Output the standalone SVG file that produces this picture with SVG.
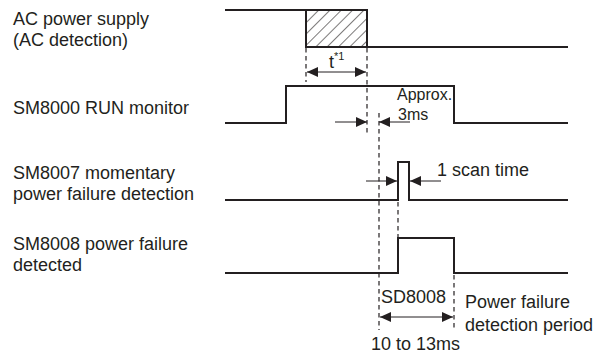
<svg xmlns="http://www.w3.org/2000/svg" width="597" height="356" viewBox="0 0 597 356">
<style>
text{font-family:"Liberation Sans",Arial,sans-serif;font-size:18px;fill:#231f20}
.sig{fill:none;stroke:#231f20;stroke-width:2}
.dash{fill:none;stroke:#231f20;stroke-width:1.2;stroke-dasharray:4.5,3.5}
.dim{fill:none;stroke:#231f20;stroke-width:1}
.sm{font-size:16px}
.sup{font-size:11px}
</style>
<defs>
<pattern id="hatch" patternUnits="userSpaceOnUse" width="8" height="8" patternTransform="rotate(45)">
<line x1="0" y1="0" x2="0" y2="8" stroke="#231f20" stroke-width="1.2"/>
</pattern>
<marker id="ah" viewBox="0 0 11 10" refX="11" refY="5" markerWidth="11" markerHeight="10" markerUnits="userSpaceOnUse" orient="auto-start-reverse">
<path d="M0,0 L11,5 L0,10 Z" fill="#231f20"/>
</marker>
</defs>
<rect width="597" height="356" fill="#ffffff"/>

<g id="labels">
<text x="13" y="25">AC power supply</text>
<text x="13" y="46">(AC detection)</text>
<text x="13" y="114">SM8000 RUN monitor</text>
<text x="13" y="179">SM8007 momentary</text>
<text x="13" y="200">power failure detection</text>
<text x="13" y="250">SM8008 power failure</text>
<text x="13" y="271">detected</text>
</g>

<g id="ac-power">
<rect x="306" y="10" width="61" height="37" fill="url(#hatch)" stroke="#231f20" stroke-width="2"/>
<polyline class="sig" points="225,10 306,10"/>
<polyline class="sig" points="367,47 568,47"/>
</g>

<g id="sm8000">
<polyline class="sig" points="225,123 286,123 286,86 454,86 454,123 568,123"/>
</g>

<g id="sm8007">
<polyline class="sig" points="225,200 398,200 398,162 409,162 409,200 568,200"/>
</g>

<g id="sm8008">
<polyline class="sig" points="225,273 398,273 398,238 454,238 454,273 568,273"/>
</g>

<g id="connectors">
<line class="dash" x1="306" y1="48" x2="306" y2="82"/>
<line class="dash" x1="367" y1="48" x2="367" y2="136"/>
<line class="dash" x1="379" y1="113" x2="379" y2="330"/>
<line class="dash" x1="398" y1="202" x2="398" y2="237"/>
<line class="dash" x1="454" y1="275" x2="454" y2="330"/>
<line class="dim" x1="307" y1="72" x2="366" y2="72" marker-start="url(#ah)" marker-end="url(#ah)"/>
<line class="dim" x1="335" y1="122" x2="367" y2="122" marker-end="url(#ah)"/>
<line class="dim" x1="410" y1="122" x2="379" y2="122" marker-end="url(#ah)"/>
<line class="dim" x1="366" y1="181" x2="397" y2="181" marker-end="url(#ah)"/>
<line class="dim" x1="441" y1="181" x2="410" y2="181" marker-end="url(#ah)"/>
<line class="dim" x1="380" y1="317" x2="453" y2="317" marker-start="url(#ah)" marker-end="url(#ah)"/>
</g>

<g id="annotations">
<text x="329" y="68">t<tspan class="sup" dy="-8">*1</tspan></text>
<text class="sm" x="397" y="100">Approx.</text>
<text class="sm" x="398" y="120">3ms</text>
<text x="437" y="176">1 scan time</text>
<text x="381" y="303">SD8008</text>
<text x="465" y="308">Power failure</text>
<text x="465" y="331">detection period</text>
<text x="371" y="350">10 to 13ms</text>
</g>
</svg>
